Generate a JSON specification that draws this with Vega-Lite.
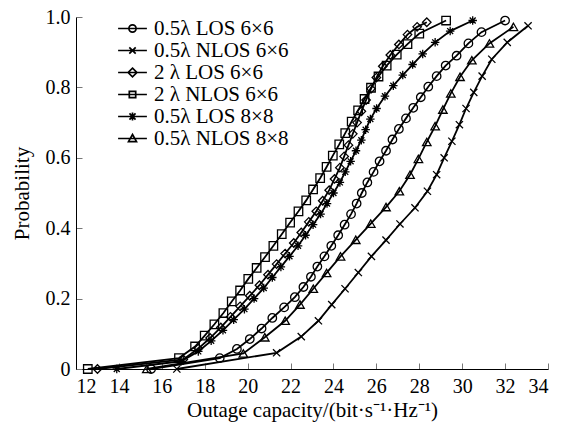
{
  "$schema": "https://vega.github.io/schema/vega-lite/v6.json",
  "width": 472,
  "height": 352,
  "autosize": {"type": "none"},
  "padding": {"left": 76, "top": 17, "right": 21, "bottom": 56},
  "background": "white",
  "config": {
    "view": {"stroke": null},
    "font": "Liberation Serif",
    "axis": {
      "labelFont": "Liberation Serif", "titleFont": "Liberation Serif",
      "labelFontSize": 20, "titleFontSize": 21, "titleFontWeight": "normal",
      "labelColor": "black", "titleColor": "black",
      "domainColor": "black", "domainWidth": 1,
      "tickColor": "#777777", "tickWidth": 1, "tickSize": -6,
      "grid": false
    },
    "legend": {"labelFont": "Liberation Serif", "labelFontSize": 21, "labelColor": "black"}
  },
  "data": {"values": [
    {"s":"0.5λ LOS 6×6","x":15.5,"p":0},{"s":"0.5λ LOS 6×6","x":18.7,"p":0.031},{"s":"0.5λ LOS 6×6","x":19.5,"p":0.057},{"s":"0.5λ LOS 6×6","x":20.1,"p":0.085},{"s":"0.5λ LOS 6×6","x":20.65,"p":0.115},{"s":"0.5λ LOS 6×6","x":21.15,"p":0.145},{"s":"0.5λ LOS 6×6","x":21.7,"p":0.175},{"s":"0.5λ LOS 6×6","x":22.2,"p":0.204},{"s":"0.5λ LOS 6×6","x":22.6,"p":0.233},{"s":"0.5λ LOS 6×6","x":22.95,"p":0.262},{"s":"0.5λ LOS 6×6","x":23.25,"p":0.291},{"s":"0.5λ LOS 6×6","x":23.58,"p":0.32},{"s":"0.5λ LOS 6×6","x":23.9,"p":0.35},{"s":"0.5λ LOS 6×6","x":24.22,"p":0.38},{"s":"0.5λ LOS 6×6","x":24.52,"p":0.41},{"s":"0.5λ LOS 6×6","x":24.82,"p":0.44},{"s":"0.5λ LOS 6×6","x":25.08,"p":0.47},{"s":"0.5λ LOS 6×6","x":25.32,"p":0.5},{"s":"0.5λ LOS 6×6","x":25.58,"p":0.53},{"s":"0.5λ LOS 6×6","x":25.87,"p":0.56},{"s":"0.5λ LOS 6×6","x":26.15,"p":0.59},{"s":"0.5λ LOS 6×6","x":26.45,"p":0.62},{"s":"0.5λ LOS 6×6","x":26.75,"p":0.652},{"s":"0.5λ LOS 6×6","x":27.05,"p":0.682},{"s":"0.5λ LOS 6×6","x":27.38,"p":0.712},{"s":"0.5λ LOS 6×6","x":27.72,"p":0.742},{"s":"0.5λ LOS 6×6","x":28.07,"p":0.772},{"s":"0.5λ LOS 6×6","x":28.42,"p":0.802},{"s":"0.5λ LOS 6×6","x":28.81,"p":0.832},{"s":"0.5λ LOS 6×6","x":29.23,"p":0.862},{"s":"0.5λ LOS 6×6","x":29.74,"p":0.89},{"s":"0.5λ LOS 6×6","x":30.29,"p":0.925},{"s":"0.5λ LOS 6×6","x":30.9,"p":0.957},{"s":"0.5λ LOS 6×6","x":32.0,"p":0.99},

    {"s":"0.5λ NLOS 6×6","x":16.7,"p":0},{"s":"0.5λ NLOS 6×6","x":21.35,"p":0.046},{"s":"0.5λ NLOS 6×6","x":22.5,"p":0.092},{"s":"0.5λ NLOS 6×6","x":23.3,"p":0.137},{"s":"0.5λ NLOS 6×6","x":23.92,"p":0.183},{"s":"0.5λ NLOS 6×6","x":24.54,"p":0.228},{"s":"0.5λ NLOS 6×6","x":25.16,"p":0.274},{"s":"0.5λ NLOS 6×6","x":25.77,"p":0.32},{"s":"0.5λ NLOS 6×6","x":26.45,"p":0.366},{"s":"0.5λ NLOS 6×6","x":27.1,"p":0.412},{"s":"0.5λ NLOS 6×6","x":27.8,"p":0.458},{"s":"0.5λ NLOS 6×6","x":28.38,"p":0.505},{"s":"0.5λ NLOS 6×6","x":28.81,"p":0.552},{"s":"0.5λ NLOS 6×6","x":29.16,"p":0.6},{"s":"0.5λ NLOS 6×6","x":29.52,"p":0.647},{"s":"0.5λ NLOS 6×6","x":29.87,"p":0.694},{"s":"0.5λ NLOS 6×6","x":30.18,"p":0.74},{"s":"0.5λ NLOS 6×6","x":30.54,"p":0.786},{"s":"0.5λ NLOS 6×6","x":30.93,"p":0.832},{"s":"0.5λ NLOS 6×6","x":31.38,"p":0.88},{"s":"0.5λ NLOS 6×6","x":32.1,"p":0.928},{"s":"0.5λ NLOS 6×6","x":33.07,"p":0.975},

    {"s":"2 λ LOS 6×6","x":13.0,"p":0},{"s":"2 λ LOS 6×6","x":17.0,"p":0.027},{"s":"2 λ LOS 6×6","x":17.7,"p":0.058},{"s":"2 λ LOS 6×6","x":18.25,"p":0.088},{"s":"2 λ LOS 6×6","x":18.75,"p":0.118},{"s":"2 λ LOS 6×6","x":19.2,"p":0.148},{"s":"2 λ LOS 6×6","x":19.65,"p":0.178},{"s":"2 λ LOS 6×6","x":20.1,"p":0.208},{"s":"2 λ LOS 6×6","x":20.55,"p":0.238},{"s":"2 λ LOS 6×6","x":20.95,"p":0.268},{"s":"2 λ LOS 6×6","x":21.35,"p":0.298},{"s":"2 λ LOS 6×6","x":21.75,"p":0.328},{"s":"2 λ LOS 6×6","x":22.15,"p":0.358},{"s":"2 λ LOS 6×6","x":22.5,"p":0.388},{"s":"2 λ LOS 6×6","x":22.85,"p":0.418},{"s":"2 λ LOS 6×6","x":23.2,"p":0.448},{"s":"2 λ LOS 6×6","x":23.5,"p":0.478},{"s":"2 λ LOS 6×6","x":23.8,"p":0.508},{"s":"2 λ LOS 6×6","x":24.05,"p":0.54},{"s":"2 λ LOS 6×6","x":24.3,"p":0.572},{"s":"2 λ LOS 6×6","x":24.5,"p":0.604},{"s":"2 λ LOS 6×6","x":24.7,"p":0.636},{"s":"2 λ LOS 6×6","x":24.9,"p":0.668},{"s":"2 λ LOS 6×6","x":25.1,"p":0.7},{"s":"2 λ LOS 6×6","x":25.3,"p":0.732},{"s":"2 λ LOS 6×6","x":25.52,"p":0.764},{"s":"2 λ LOS 6×6","x":25.75,"p":0.796},{"s":"2 λ LOS 6×6","x":26.0,"p":0.828},{"s":"2 λ LOS 6×6","x":26.3,"p":0.86},{"s":"2 λ LOS 6×6","x":26.65,"p":0.892},{"s":"2 λ LOS 6×6","x":27.05,"p":0.922},{"s":"2 λ LOS 6×6","x":27.45,"p":0.95},{"s":"2 λ LOS 6×6","x":27.9,"p":0.972},{"s":"2 λ LOS 6×6","x":28.35,"p":0.985},

    {"s":"2 λ NLOS 6×6","x":12.55,"p":0},{"s":"2 λ NLOS 6×6","x":16.8,"p":0.031},{"s":"2 λ NLOS 6×6","x":17.55,"p":0.064},{"s":"2 λ NLOS 6×6","x":18.0,"p":0.095},{"s":"2 λ NLOS 6×6","x":18.45,"p":0.127},{"s":"2 λ NLOS 6×6","x":18.87,"p":0.159},{"s":"2 λ NLOS 6×6","x":19.26,"p":0.192},{"s":"2 λ NLOS 6×6","x":19.65,"p":0.223},{"s":"2 λ NLOS 6×6","x":20.03,"p":0.256},{"s":"2 λ NLOS 6×6","x":20.42,"p":0.287},{"s":"2 λ NLOS 6×6","x":20.81,"p":0.318},{"s":"2 λ NLOS 6×6","x":21.2,"p":0.35},{"s":"2 λ NLOS 6×6","x":21.59,"p":0.383},{"s":"2 λ NLOS 6×6","x":21.98,"p":0.416},{"s":"2 λ NLOS 6×6","x":22.37,"p":0.448},{"s":"2 λ NLOS 6×6","x":22.73,"p":0.479},{"s":"2 λ NLOS 6×6","x":23.05,"p":0.51},{"s":"2 λ NLOS 6×6","x":23.38,"p":0.542},{"s":"2 λ NLOS 6×6","x":23.68,"p":0.574},{"s":"2 λ NLOS 6×6","x":23.97,"p":0.606},{"s":"2 λ NLOS 6×6","x":24.27,"p":0.638},{"s":"2 λ NLOS 6×6","x":24.55,"p":0.67},{"s":"2 λ NLOS 6×6","x":24.85,"p":0.703},{"s":"2 λ NLOS 6×6","x":25.15,"p":0.735},{"s":"2 λ NLOS 6×6","x":25.45,"p":0.767},{"s":"2 λ NLOS 6×6","x":25.75,"p":0.799},{"s":"2 λ NLOS 6×6","x":26.1,"p":0.831},{"s":"2 λ NLOS 6×6","x":26.48,"p":0.862},{"s":"2 λ NLOS 6×6","x":26.95,"p":0.893},{"s":"2 λ NLOS 6×6","x":27.45,"p":0.923},{"s":"2 λ NLOS 6×6","x":28.0,"p":0.953},{"s":"2 λ NLOS 6×6","x":29.25,"p":0.99},

    {"s":"0.5λ LOS 8×8","x":13.9,"p":0},{"s":"0.5λ LOS 8×8","x":16.9,"p":0.022},{"s":"0.5λ LOS 8×8","x":17.7,"p":0.05},{"s":"0.5λ LOS 8×8","x":18.3,"p":0.08},{"s":"0.5λ LOS 8×8","x":18.85,"p":0.11},{"s":"0.5λ LOS 8×8","x":19.35,"p":0.14},{"s":"0.5λ LOS 8×8","x":19.85,"p":0.17},{"s":"0.5λ LOS 8×8","x":20.3,"p":0.2},{"s":"0.5λ LOS 8×8","x":20.75,"p":0.23},{"s":"0.5λ LOS 8×8","x":21.15,"p":0.26},{"s":"0.5λ LOS 8×8","x":21.55,"p":0.29},{"s":"0.5λ LOS 8×8","x":21.95,"p":0.32},{"s":"0.5λ LOS 8×8","x":22.35,"p":0.35},{"s":"0.5λ LOS 8×8","x":22.7,"p":0.38},{"s":"0.5λ LOS 8×8","x":23.05,"p":0.41},{"s":"0.5λ LOS 8×8","x":23.4,"p":0.44},{"s":"0.5λ LOS 8×8","x":23.7,"p":0.47},{"s":"0.5λ LOS 8×8","x":24.0,"p":0.5},{"s":"0.5λ LOS 8×8","x":24.3,"p":0.53},{"s":"0.5λ LOS 8×8","x":24.55,"p":0.56},{"s":"0.5λ LOS 8×8","x":24.8,"p":0.59},{"s":"0.5λ LOS 8×8","x":25.05,"p":0.62},{"s":"0.5λ LOS 8×8","x":25.3,"p":0.65},{"s":"0.5λ LOS 8×8","x":25.5,"p":0.68},{"s":"0.5λ LOS 8×8","x":25.72,"p":0.71},{"s":"0.5λ LOS 8×8","x":26.01,"p":0.74},{"s":"0.5λ LOS 8×8","x":26.4,"p":0.775},{"s":"0.5λ LOS 8×8","x":26.79,"p":0.805},{"s":"0.5λ LOS 8×8","x":27.23,"p":0.835},{"s":"0.5λ LOS 8×8","x":27.69,"p":0.865},{"s":"0.5λ LOS 8×8","x":28.16,"p":0.895},{"s":"0.5λ LOS 8×8","x":28.74,"p":0.928},{"s":"0.5λ LOS 8×8","x":29.44,"p":0.96},{"s":"0.5λ LOS 8×8","x":30.49,"p":0.99},

    {"s":"0.5λ NLOS 8×8","x":15.3,"p":0},{"s":"0.5λ NLOS 8×8","x":19.8,"p":0.044},{"s":"0.5λ NLOS 8×8","x":20.8,"p":0.09},{"s":"0.5λ NLOS 8×8","x":21.75,"p":0.137},{"s":"0.5λ NLOS 8×8","x":22.44,"p":0.183},{"s":"0.5λ NLOS 8×8","x":23.06,"p":0.228},{"s":"0.5λ NLOS 8×8","x":23.68,"p":0.273},{"s":"0.5λ NLOS 8×8","x":24.33,"p":0.32},{"s":"0.5λ NLOS 8×8","x":25.04,"p":0.367},{"s":"0.5λ NLOS 8×8","x":25.74,"p":0.413},{"s":"0.5λ NLOS 8×8","x":26.45,"p":0.46},{"s":"0.5λ NLOS 8×8","x":27.07,"p":0.505},{"s":"0.5λ NLOS 8×8","x":27.57,"p":0.552},{"s":"0.5λ NLOS 8×8","x":27.96,"p":0.597},{"s":"0.5λ NLOS 8×8","x":28.35,"p":0.645},{"s":"0.5λ NLOS 8×8","x":28.74,"p":0.69},{"s":"0.5λ NLOS 8×8","x":29.1,"p":0.737},{"s":"0.5λ NLOS 8×8","x":29.47,"p":0.783},{"s":"0.5λ NLOS 8×8","x":29.9,"p":0.83},{"s":"0.5λ NLOS 8×8","x":30.45,"p":0.877},{"s":"0.5λ NLOS 8×8","x":31.27,"p":0.925},{"s":"0.5λ NLOS 8×8","x":32.39,"p":0.972}
  ]},
  "encoding": {
    "x": {"field": "x", "type": "quantitative",
      "scale": {"domain": [12, 34], "nice": false, "zero": false},
      "axis": {"values": [12,14,16,18,20,22,24,26,28,30,32,34], "title": "Outage capacity/(bit·s⁻¹·Hz⁻¹)", "labelPadding": 13, "titlePadding": 3}},
    "y": {"field": "p", "type": "quantitative",
      "scale": {"domain": [0, 1], "nice": false},
      "axis": {"values": [0,0.2,0.4,0.6,0.8,1.0], "labelExpr": "datum.value == 0 ? '0' : format(datum.value, '.1f')", "title": "Probability", "labelPadding": 12, "titlePadding": 13}}
  },
  "layer": [
    {
      "mark": {"type": "line", "color": "black", "strokeWidth": 1.8},
      "encoding": {"detail": {"field": "s"}}
    },
    {
      "mark": {"type": "point", "filled": false, "color": "black", "strokeWidth": 1.3, "size": 72, "opacity": 1},
      "encoding": {
        "shape": {"field": "s", "type": "nominal", "legend": null,
          "scale": {
            "domain": ["0.5λ LOS 6×6","0.5λ NLOS 6×6","2 λ LOS 6×6","2 λ NLOS 6×6","0.5λ LOS 8×8","0.5λ NLOS 8×8"],
            "range": ["circle","M-0.85,-0.85L0.85,0.85M-0.85,0.85L0.85,-0.85","diamond","square","M0,-1V1M-1,0H1M-0.7,-0.7L0.7,0.7M-0.7,0.7L0.7,-0.7","triangle-up"]
          }}
      }
    },
    {
      "transform": [{"filter": "false"}],
      "mark": {"type": "point", "filled": false, "color": "black", "strokeWidth": 1.7, "size": 256, "opacity": 1},
      "encoding": {
        "shape": {"field": "s", "type": "nominal",
          "scale": {
            "domain": ["0.5λ LOS 6×6","0.5λ NLOS 6×6","2 λ LOS 6×6","2 λ NLOS 6×6","0.5λ LOS 8×8","0.5λ NLOS 8×8"],
            "range": [
              "M-1.8,0H1.8M0.45,0A0.45,0.45 0 1,1 -0.45,0A0.45,0.45 0 1,1 0.45,0",
              "M-1.8,0H1.8M-0.4,-0.4L0.4,0.4M-0.4,0.4L0.4,-0.4",
              "M-1.8,0H1.8M0,-0.55L0.55,0L0,0.55L-0.55,0Z",
              "M-1.8,0H1.8M-0.4,-0.4H0.4V0.4H-0.4Z",
              "M-1.8,0H1.8M0,-0.5V0.5M-0.38,-0.38L0.38,0.38M-0.38,0.38L0.38,-0.38",
              "M-1.8,0H1.8M0,-0.5L0.5,0.4H-0.5Z"
            ]
          },
          "legend": {"title": null, "orient": "none", "legendX": 46, "legendY": 1, "padding": 0, "rowPadding": 0, "labelOffset": 11, "symbolSize": 256, "symbolStrokeWidth": 1.7, "symbolStrokeColor": "black", "symbolFillColor": "transparent"}
        }
      }
    }
  ],
  "resolve": {"scale": {"shape": "independent"}, "legend": {"shape": "independent"}}
}
